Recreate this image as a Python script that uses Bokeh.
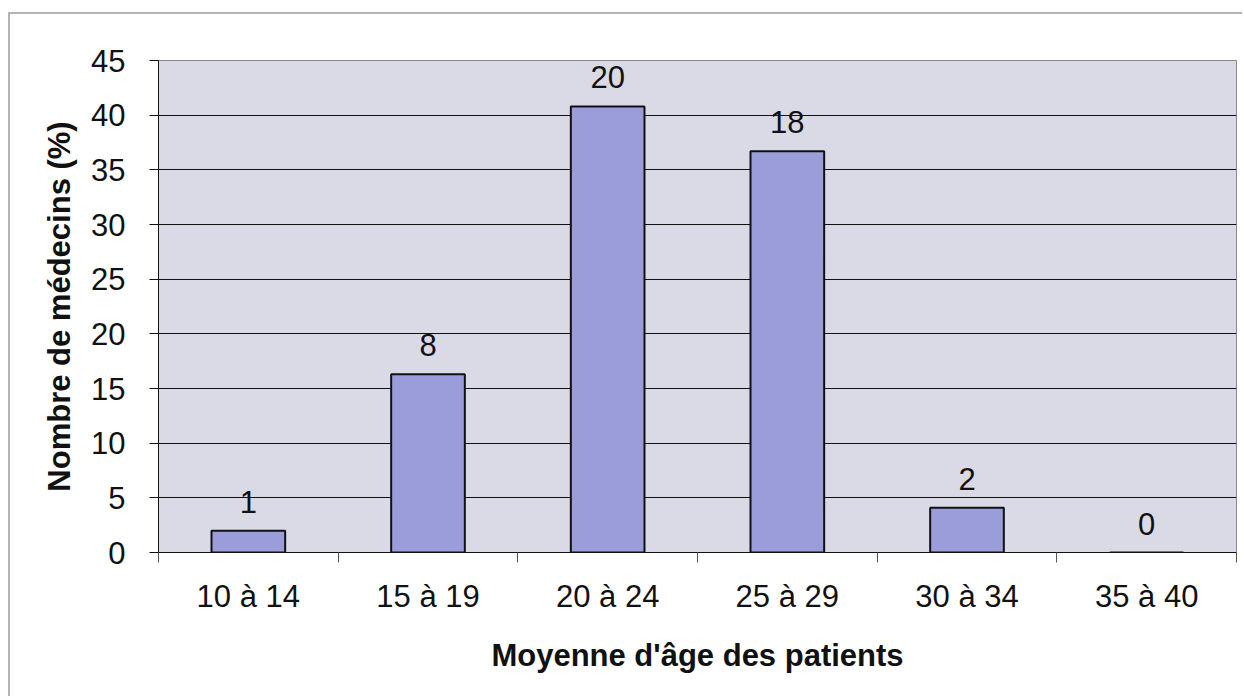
from bokeh.plotting import figure
from bokeh.models import ColumnDataSource, FixedTicker, Range1d
from bokeh.embed import file_html
from bokeh.resources import INLINE
from bokeh.core.properties import value

categories = ["10 à 14", "15 à 19", "20 à 24", "25 à 29", "30 à 34", "35 à 40"]
percent = [2.0, 16.3, 40.8, 36.7, 4.1, 0.0]
counts = ["1", "8", "20", "18", "2", "0"]
y_ticks = [0, 5, 10, 15, 20, 25, 30, 35, 40, 45]

xs = [i + 0.5 for i in range(len(categories))]
src = ColumnDataSource(dict(x=xs, top=percent, lab=counts, cat=categories))

FONT = "Liberation Sans"
FS = "31px"

p = figure(width=1234, height=684, output_backend="svg", toolbar_location=None,
           x_range=Range1d(0, len(categories)), y_range=Range1d(0, 45),
           min_border_left=148, min_border_right=8, min_border_top=46, min_border_bottom=146)
p.styles = {"margin-top": "12px", "margin-left": "8px",
            "border-top": "2px solid #b4b4b4", "border-left": "2px solid #b4b4b4"}

p.background_fill_color = "#dadae6"
p.border_fill_color = "white"
p.outline_line_color = "#8a8a8a"
p.outline_line_width = 1

p.vbar(x="x", top="top", width=0.41, bottom=0, source=src,
       fill_color="#9b9dda", line_color="#111111", line_width=2)

p.text(x="x", y="top", text="lab", source=src, text_align="center",
       text_baseline="alphabetic", y_offset=-29, text_font=value(FONT),
       text_font_size=FS, text_color="#111111")

# grid
p.xgrid.grid_line_color = None
p.ygrid.ticker = FixedTicker(ticks=y_ticks)
p.ygrid.grid_line_color = "#111111"
p.ygrid.grid_line_width = 1

# x axis
xa = p.xaxis[0]
xa.ticker = FixedTicker(ticks=xs, minor_ticks=list(range(len(categories) + 1)))
xa.major_label_overrides = {x: c for x, c in zip(xs, categories)}
xa.major_tick_line_color = None
xa.major_tick_out = 10
xa.major_tick_in = 0
xa.minor_tick_out = 10
xa.minor_tick_in = 0
xa.minor_tick_line_color = "#555555"
xa.axis_line_color = "#111111"
xa.major_label_text_font = FONT
xa.major_label_text_font_size = FS
xa.major_label_text_color = "#111111"
xa.major_label_standoff = 16
xa.axis_label = "Moyenne d'âge des patients"
xa.axis_label_text_font = FONT
xa.axis_label_text_font_size = FS
xa.axis_label_text_font_style = "bold"
xa.axis_label_text_color = "#111111"
xa.axis_label_standoff = 21

# y axis
ya = p.yaxis[0]
ya.ticker = FixedTicker(ticks=y_ticks)
ya.major_tick_out = 9
ya.major_tick_in = 0
ya.minor_tick_line_color = None
ya.major_tick_line_color = "#111111"
ya.axis_line_color = "#111111"
ya.major_label_text_font = FONT
ya.major_label_text_font_size = FS
ya.major_label_text_color = "#111111"
ya.major_label_standoff = 24
ya.axis_label = "Nombre de médecins (%)"
ya.axis_label_text_font = FONT
ya.axis_label_text_font_size = FS
ya.axis_label_text_font_style = "bold"
ya.axis_label_text_color = "#111111"
ya.axis_label_standoff = 11

open("out.html", "w").write(file_html(p, INLINE))
